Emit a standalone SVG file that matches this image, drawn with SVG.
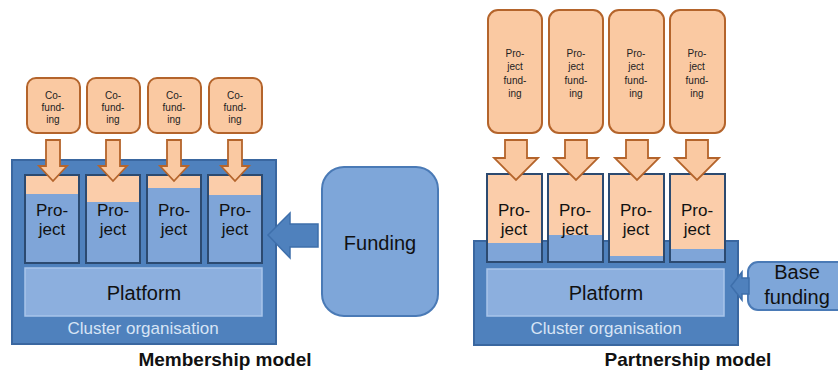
<svg xmlns="http://www.w3.org/2000/svg" width="838" height="371" viewBox="0 0 838 371">
  <defs>
    <style>
      text { font-family: "Liberation Sans", Arial, sans-serif; text-anchor: middle; }
      .cluster { fill: #4F81BD; stroke: #3A67A0; stroke-width: 2; }
      .proj-blue { fill: #7FA5D8; }
      .proj-peach { fill: #FBCDAA; }
      .proj-frame { fill: none; stroke: #2C4A70; stroke-width: 2; }
      .platform { fill: #8CAFDE; stroke: #A9C5EA; stroke-width: 1.5; }
      .fund-src { fill: #FAC9A2; stroke: #B4642B; stroke-width: 2; }
      .down { fill: #FAC9A2; stroke: #B4642B; stroke-width: 1.8; stroke-linejoin: miter; }
      .side { fill: #4F81BD; stroke: #3E6FAB; stroke-width: 1.5; }
      .ext { fill: #7EA6D9; stroke: #4A7AB6; stroke-width: 2; }
      .small { font-size: 10px; fill: #222; }
      .proj-label { font-size: 17px; fill: #111; }
      .big { font-size: 20px; fill: #111; }
      .org { font-size: 17px; fill: #D7E4F5; }
      .title { font-size: 19px; font-weight: bold; fill: #111; }
    </style>
  </defs>

  <!-- ===== Membership model ===== -->
  <g id="membership-cluster">
    <rect class="cluster" x="12" y="160" width="264" height="184"/>
    <text class="org" x="143" y="334">Cluster organisation</text>
  </g>

  <g id="m-project-1">
    <rect class="proj-blue" x="25" y="175" width="54" height="88"/>
    <rect class="proj-peach" x="25" y="175" width="54" height="19"/>
    <rect class="proj-frame" x="25" y="175" width="54" height="88"/>
    <text class="proj-label" x="52" y="216">Pro-</text>
    <text class="proj-label" x="52" y="235">ject</text>
  </g>
  <g id="m-project-2">
    <rect class="proj-blue" x="86" y="175" width="54" height="88"/>
    <rect class="proj-peach" x="86" y="175" width="54" height="27"/>
    <rect class="proj-frame" x="86" y="175" width="54" height="88"/>
    <text class="proj-label" x="113" y="216">Pro-</text>
    <text class="proj-label" x="113" y="235">ject</text>
  </g>
  <g id="m-project-3">
    <rect class="proj-blue" x="147" y="175" width="54" height="88"/>
    <rect class="proj-peach" x="147" y="175" width="54" height="13"/>
    <rect class="proj-frame" x="147" y="175" width="54" height="88"/>
    <text class="proj-label" x="174" y="216">Pro-</text>
    <text class="proj-label" x="174" y="235">ject</text>
  </g>
  <g id="m-project-4">
    <rect class="proj-blue" x="208" y="175" width="54" height="88"/>
    <rect class="proj-peach" x="208" y="175" width="54" height="20"/>
    <rect class="proj-frame" x="208" y="175" width="54" height="88"/>
    <text class="proj-label" x="235" y="216">Pro-</text>
    <text class="proj-label" x="235" y="235">ject</text>
  </g>

  <g id="m-platform">
    <rect class="platform" x="25" y="268" width="237" height="48"/>
    <text class="big" x="144" y="300">Platform</text>
  </g>

  <g id="m-cofunding-1">
    <rect class="fund-src" x="27" y="78" width="53" height="55" rx="9"/>
    <text class="small" x="53" y="99">Co-</text>
    <text class="small" x="53" y="111">fund-</text>
    <text class="small" x="53" y="123">ing</text>
  </g>
  <g id="m-cofunding-2">
    <rect class="fund-src" x="87" y="78" width="53" height="55" rx="9"/>
    <text class="small" x="113" y="99">Co-</text>
    <text class="small" x="113" y="111">fund-</text>
    <text class="small" x="113" y="123">ing</text>
  </g>
  <g id="m-cofunding-3">
    <rect class="fund-src" x="148" y="78" width="53" height="55" rx="9"/>
    <text class="small" x="174" y="99">Co-</text>
    <text class="small" x="174" y="111">fund-</text>
    <text class="small" x="174" y="123">ing</text>
  </g>
  <g id="m-cofunding-4">
    <rect class="fund-src" x="209" y="78" width="53" height="55" rx="9"/>
    <text class="small" x="235" y="99">Co-</text>
    <text class="small" x="235" y="111">fund-</text>
    <text class="small" x="235" y="123">ing</text>
  </g>

  <g id="m-funding">
    <rect class="ext" x="322" y="167" width="116" height="149" rx="22"/>
    <text class="big" x="380" y="250">Funding</text>
  </g>

  <!-- ===== Partnership model ===== -->
  <g id="partnership-cluster">
    <rect class="cluster" x="474" y="241" width="264" height="104"/>
    <text class="org" x="606" y="334">Cluster organisation</text>
  </g>

  <g id="p-project-1">
    <rect class="proj-peach" x="487" y="174" width="55" height="88"/>
    <rect class="proj-blue" x="487" y="243" width="55" height="19"/>
    <rect class="proj-frame" x="487" y="174" width="55" height="88"/>
    <text class="proj-label" x="514" y="216">Pro-</text>
    <text class="proj-label" x="514" y="235">ject</text>
  </g>
  <g id="p-project-2">
    <rect class="proj-peach" x="548" y="174" width="55" height="88"/>
    <rect class="proj-blue" x="548" y="235" width="55" height="27"/>
    <rect class="proj-frame" x="548" y="174" width="55" height="88"/>
    <text class="proj-label" x="575" y="216">Pro-</text>
    <text class="proj-label" x="575" y="235">ject</text>
  </g>
  <g id="p-project-3">
    <rect class="proj-peach" x="609" y="174" width="55" height="88"/>
    <rect class="proj-blue" x="609" y="256" width="55" height="6"/>
    <rect class="proj-frame" x="609" y="174" width="55" height="88"/>
    <text class="proj-label" x="636" y="216">Pro-</text>
    <text class="proj-label" x="636" y="235">ject</text>
  </g>
  <g id="p-project-4">
    <rect class="proj-peach" x="670" y="174" width="55" height="88"/>
    <rect class="proj-blue" x="670" y="249" width="55" height="13"/>
    <rect class="proj-frame" x="670" y="174" width="55" height="88"/>
    <text class="proj-label" x="697" y="216">Pro-</text>
    <text class="proj-label" x="697" y="235">ject</text>
  </g>

  <g id="p-platform">
    <rect class="platform" x="487" y="269" width="237" height="47"/>
    <text class="big" x="606" y="300">Platform</text>
  </g>

  <g id="p-projfunding-1">
    <rect class="fund-src" x="488" y="10" width="54" height="123" rx="10"/>
    <text class="small" x="515" y="57">Pro-</text>
    <text class="small" x="515" y="70">ject</text>
    <text class="small" x="515" y="84">fund-</text>
    <text class="small" x="515" y="97">ing</text>
  </g>
  <g id="p-projfunding-2">
    <rect class="fund-src" x="549" y="10" width="54" height="123" rx="10"/>
    <text class="small" x="576" y="57">Pro-</text>
    <text class="small" x="576" y="70">ject</text>
    <text class="small" x="576" y="84">fund-</text>
    <text class="small" x="576" y="97">ing</text>
  </g>
  <g id="p-projfunding-3">
    <rect class="fund-src" x="609" y="10" width="55" height="123" rx="10"/>
    <text class="small" x="636" y="57">Pro-</text>
    <text class="small" x="636" y="70">ject</text>
    <text class="small" x="636" y="84">fund-</text>
    <text class="small" x="636" y="97">ing</text>
  </g>
  <g id="p-projfunding-4">
    <rect class="fund-src" x="670" y="10" width="55" height="123" rx="10"/>
    <text class="small" x="697" y="57">Pro-</text>
    <text class="small" x="697" y="70">ject</text>
    <text class="small" x="697" y="84">fund-</text>
    <text class="small" x="697" y="97">ing</text>
  </g>

  <g id="p-base-funding">
    <rect class="ext" x="748" y="262" width="110" height="48" rx="10"/>
    <text class="big" x="797" y="279">Base</text>
    <text class="big" x="797" y="304">funding</text>
  </g>

  <!-- ===== Connectors (block arrows) ===== -->
  <g id="connectors">
    <!-- co-funding into projects -->
    <polygon class="down" points="46,140 60,140 60,166 67,166 53,181 39,166 46,166"/>
    <polygon class="down" points="106,140 120,140 120,166 127,166 113,181 99,166 106,166"/>
    <polygon class="down" points="167,140 181,140 181,166 188,166 174,181 160,166 167,166"/>
    <polygon class="down" points="228,140 242,140 242,166 249,166 235,181 221,166 228,166"/>
    <!-- funding into the cluster -->
    <polygon class="side" points="268,235 290,213 290,224 318,224 318,247 290,247 290,258"/>
    <!-- project funding into projects -->
    <polygon class="down" points="505,140 527,140 527,158 538,158 516,180 494,158 505,158"/>
    <polygon class="down" points="565,140 587,140 587,158 598,158 576,180 554,158 565,158"/>
    <polygon class="down" points="626,140 648,140 648,158 659,158 637,180 615,158 626,158"/>
    <polygon class="down" points="686,140 708,140 708,158 719,158 697,180 675,158 686,158"/>
    <!-- base funding into the platform -->
    <polygon class="side" points="731,286 742,272 742,278 749,278 749,294 742,294 742,300"/>
  </g>

  <!-- captions -->
  <text class="title" x="225" y="366">Membership model</text>
  <text class="title" x="688" y="366">Partnership model</text>
</svg>
